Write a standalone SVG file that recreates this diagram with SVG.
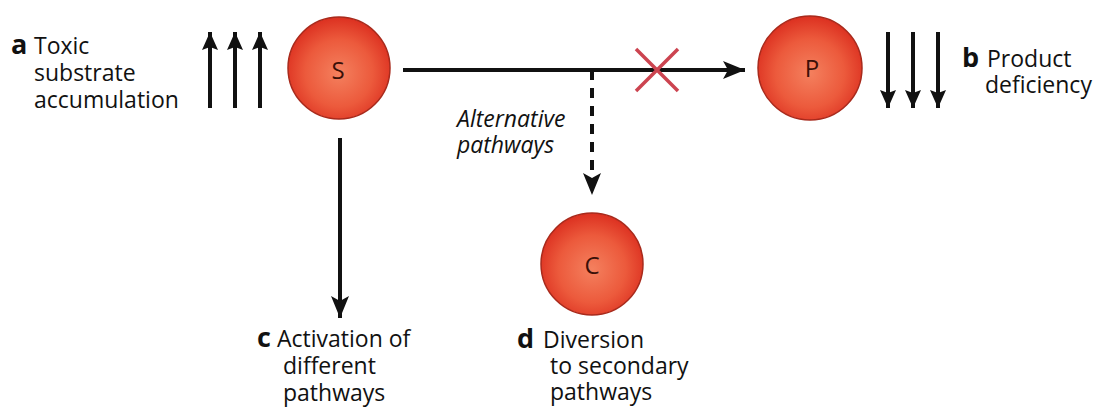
<svg xmlns="http://www.w3.org/2000/svg" width="1104" height="411" viewBox="0 0 1104 411">
<defs>
<radialGradient id="ball" cx="50%" cy="55%" r="55%">
<stop offset="0" stop-color="#f4805e"/>
<stop offset="0.6" stop-color="#ec5a3c"/>
<stop offset="1" stop-color="#dc3020"/>
</radialGradient>
<marker id="bigHead" markerUnits="userSpaceOnUse" markerWidth="24" markerHeight="20" viewBox="0 0 24 20" refX="22" refY="10" orient="auto">
<path d="M0,1 L22,10 L0,19 L5,10 Z" fill="#111"/>
</marker>
<marker id="smallHead" markerUnits="userSpaceOnUse" markerWidth="20" markerHeight="18" viewBox="0 0 20 18" refX="18" refY="9" orient="auto">
<path d="M0,1 L18,9 L0,17 L3,9 Z" fill="#111"/>
</marker>
</defs>
<style>
.ball{fill:url(#ball);stroke:#a82a1c;stroke-width:1.5}
.blet{font-family:"Open Sans","Liberation Sans",sans-serif;font-size:24px;fill:#3a1008;text-anchor:middle}
.lbl{font-family:"Open Sans","Liberation Sans",sans-serif;font-size:23px;fill:#111}
.key{font-family:"Open Sans","Liberation Sans",sans-serif;font-size:27px;font-weight:bold;fill:#111}
.ital{font-style:italic}
.conn{stroke:#111;stroke-width:4;fill:none}
.dash{stroke:#111;stroke-width:4;fill:none;stroke-dasharray:10 8}
.thin{stroke:#111;stroke-width:4;fill:none}
.cross{stroke:#cc4450;stroke-width:3.5;fill:none}
</style>
<g id="connectors">
<line class="conn" x1="403" y1="70" x2="745" y2="70" marker-end="url(#bigHead)"/>
<line class="conn" x1="340" y1="138" x2="340" y2="318" marker-end="url(#bigHead)"/>
<line class="dash" x1="592" y1="70" x2="592" y2="195" marker-end="url(#bigHead)"/>
<path class="cross" d="M636,49 L678,91 M678,49 L636,91"/>
</g>
<g id="up-arrows">
<line class="thin" x1="210" y1="108" x2="210" y2="32" marker-end="url(#smallHead)"/>
<line class="thin" x1="235" y1="108" x2="235" y2="32" marker-end="url(#smallHead)"/>
<line class="thin" x1="260" y1="108" x2="260" y2="32" marker-end="url(#smallHead)"/>
</g>
<g id="down-arrows">
<line class="thin" x1="888" y1="32" x2="888" y2="108" marker-end="url(#smallHead)"/>
<line class="thin" x1="913" y1="32" x2="913" y2="108" marker-end="url(#smallHead)"/>
<line class="thin" x1="938" y1="32" x2="938" y2="108" marker-end="url(#smallHead)"/>
</g>
<g id="node-S">
<circle class="ball" cx="339" cy="68" r="51"/>
<text class="blet" x="338" y="79">S</text>
</g>
<g id="node-P">
<circle class="ball" cx="810" cy="68" r="52"/>
<text class="blet" x="812" y="77">P</text>
</g>
<g id="node-C">
<circle class="ball" cx="592" cy="264" r="51"/>
<text class="blet" x="592" y="274">C</text>
</g>
<g id="label-a">
<text class="key" x="11" y="54">a</text>
<text class="lbl" x="34" y="54">Toxic</text>
<text class="lbl" x="34" y="81">substrate</text>
<text class="lbl" x="34" y="108">accumulation</text>
</g>
<g id="label-b">
<text class="key" x="962" y="67">b</text>
<text class="lbl" x="987" y="67">Product</text>
<text class="lbl" x="985" y="93">deficiency</text>
</g>
<g id="label-alt">
<text class="lbl ital" x="457" y="127">Alternative</text>
<text class="lbl ital" x="457" y="153">pathways</text>
</g>
<g id="label-c">
<text class="key" x="257" y="347">c</text>
<text class="lbl" x="277" y="347">Activation of</text>
<text class="lbl" x="283" y="374">different</text>
<text class="lbl" x="283" y="401">pathways</text>
</g>
<g id="label-d">
<text class="key" x="517" y="348">d</text>
<text class="lbl" x="543" y="348">Diversion</text>
<text class="lbl" x="550" y="374">to secondary</text>
<text class="lbl" x="550" y="400">pathways</text>
</g>
</svg>
